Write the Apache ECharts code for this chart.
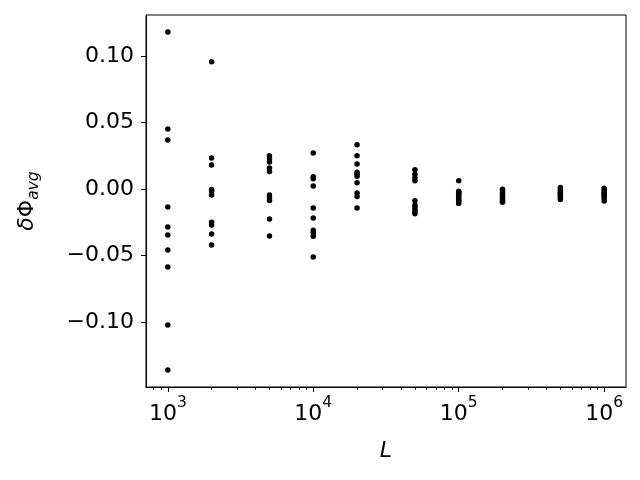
<!DOCTYPE html>
<html><head><meta charset="utf-8">
<script src="https://cdn.jsdelivr.net/npm/echarts@6/dist/echarts.min.js"></script>
<style>html,body{margin:0;padding:0;background:#fff}#c{width:640px;height:480px}</style>
</head><body><div id="c"></div>
<script>
const L = [1e3, 2e3, 5e3, 1e4, 2e4, 5e4, 1e5, 2e5, 5e5, 1e6];
const d1e3 = [0.118, 0.0451, 0.0368, -0.0135, -0.0286, -0.0346, -0.0459, -0.0587, -0.1023, -0.1361];
const d2e3 = [0.0955, 0.0233, 0.018, -0.0005, -0.0015, -0.0045, -0.0251, -0.0271, -0.0338, -0.0421];
const d5e3 = [0.025, 0.0226, 0.0203, 0.0158, 0.0132, -0.0045, -0.0068, -0.0086, -0.0226, -0.0353];
const d1e4 = [0.0271, 0.0092, 0.0077, 0.0023, -0.0143, -0.0218, -0.0311, -0.0331, -0.0356, -0.0511];
const d2e4 = [0.0333, 0.025, 0.0188, 0.0125, 0.011, 0.0095, 0.0047, -0.003, -0.0056, -0.0143];
const d5e4 = [0.0145, 0.011, 0.0085, 0.0062, -0.0089, -0.012, -0.014, -0.0158, -0.0172, -0.0186];
const d1e5 = [0.0062, -0.0017, -0.0025, -0.003, -0.0042, -0.0055, -0.0068, -0.008, -0.0093, -0.011];
const d2e5 = [-0.0003, -0.0015, -0.003, -0.0045, -0.0058, -0.007, -0.0082, -0.0092, -0.0100];
const d5e5 = [0.001, -0.0005, -0.002, -0.003, -0.004, -0.005, -0.0065, -0.008];
const d1e6 = [0.0005, -0.001, -0.0025, -0.0035, -0.0045, -0.0055, -0.007, -0.009];
const yTicks = [-0.10, -0.05, 0.00, 0.05, 0.10];
const xMajor = [1e3, 1e4, 1e5, 1e6];
const xMinor = [800, 900, 2e3, 3e3, 4e3, 5e3, 6e3, 7e3, 8e3, 9e3, 2e4, 3e4, 4e4, 5e4, 6e4, 7e4, 8e4, 9e4,
  2e5, 3e5, 4e5, 5e5, 6e5, 7e5, 8e5, 9e5];

const cols = [d1e3, d2e3, d5e3, d1e4, d2e4, d5e4, d1e5, d2e5, d5e5, d1e6];
const pts = [];
cols.forEach((arr, i) => arr.forEach(v => pts.push([L[i], v])));

const FONT = 'DejaVu Sans';
const chart = echarts.init(document.getElementById('c'), null, {renderer: 'canvas'});
chart.setOption({
  animation: false,
  grid: {left: 146, right: 14, top: 15, bottom: 93, show: true, borderColor: '#000', borderWidth: 1, backgroundColor: 'transparent'},
  xAxis: [{
    type: 'log', logBase: 10, min: 708, max: 1.413e6, position: 'bottom',
    axisLine: {show: true, onZero: false, lineStyle: {color: '#000', width: 1}},
    splitLine: {show: false},
    minorTick: {show: false},
    axisTick: {show: true, length: 5, lineStyle: {color: '#000', width: 1}, customValues: xMajor},
    axisLabel: {
      customValues: xMajor, margin: 8, color: '#000',
      formatter: v => '{b|10}{s|' + Math.round(Math.log10(v)) + '}',
      rich: {
        b: {fontFamily: FONT, fontSize: 22, color: '#000', verticalAlign: 'bottom', lineHeight: 30},
        s: {fontFamily: FONT, fontSize: 15.5, color: '#000', verticalAlign: 'top', lineHeight: 16}
      }
    },
    name: 'L', nameLocation: 'middle', nameGap: 53,
    nameTextStyle: {fontFamily: FONT, fontSize: 22, fontStyle: 'italic', color: '#000'}
  }, {
    type: 'log', logBase: 10, min: 708, max: 1.413e6, position: 'bottom', gridIndex: 0,
    axisLine: {show: false, onZero: false}, splitLine: {show: false},
    axisTick: {show: true, length: 3, lineStyle: {color: '#000', width: 0.8}, customValues: xMinor},
    axisLabel: {show: false}
  }],
  yAxis: {
    type: 'value', min: -0.1488, max: 0.1307, position: 'left',
    axisLine: {show: true, onZero: false, lineStyle: {color: '#000', width: 1}},
    splitLine: {show: false},
    axisTick: {show: true, length: 5, lineStyle: {color: '#000', width: 1}, customValues: yTicks},
    axisLabel: {
      customValues: yTicks, margin: 12, color: '#000', fontFamily: FONT, fontSize: 22,
      formatter: v => (v < 0 ? '\u2212' : '') + Math.abs(v).toFixed(2)
    },
    name: '{a|δ}{p|Φ}{s|avg}', nameLocation: 'middle', nameRotate: 90, nameGap: 104,
    nameTextStyle: {
      rich: {
        a: {fontFamily: FONT, fontSize: 22, fontStyle: 'italic', color: '#000', verticalAlign: 'top', lineHeight: 26},
        p: {fontFamily: FONT, fontSize: 22, color: '#000', verticalAlign: 'top', lineHeight: 26},
        s: {fontFamily: FONT, fontSize: 15.5, fontStyle: 'italic', color: '#000', verticalAlign: 'bottom', lineHeight: 16}
      }
    }
  },
  series: [{
    type: 'scatter', xAxisIndex: 0, data: pts, symbol: 'circle', symbolSize: 5.5,
    itemStyle: {color: '#000', opacity: 1}
  }]
});
</script></body></html>
